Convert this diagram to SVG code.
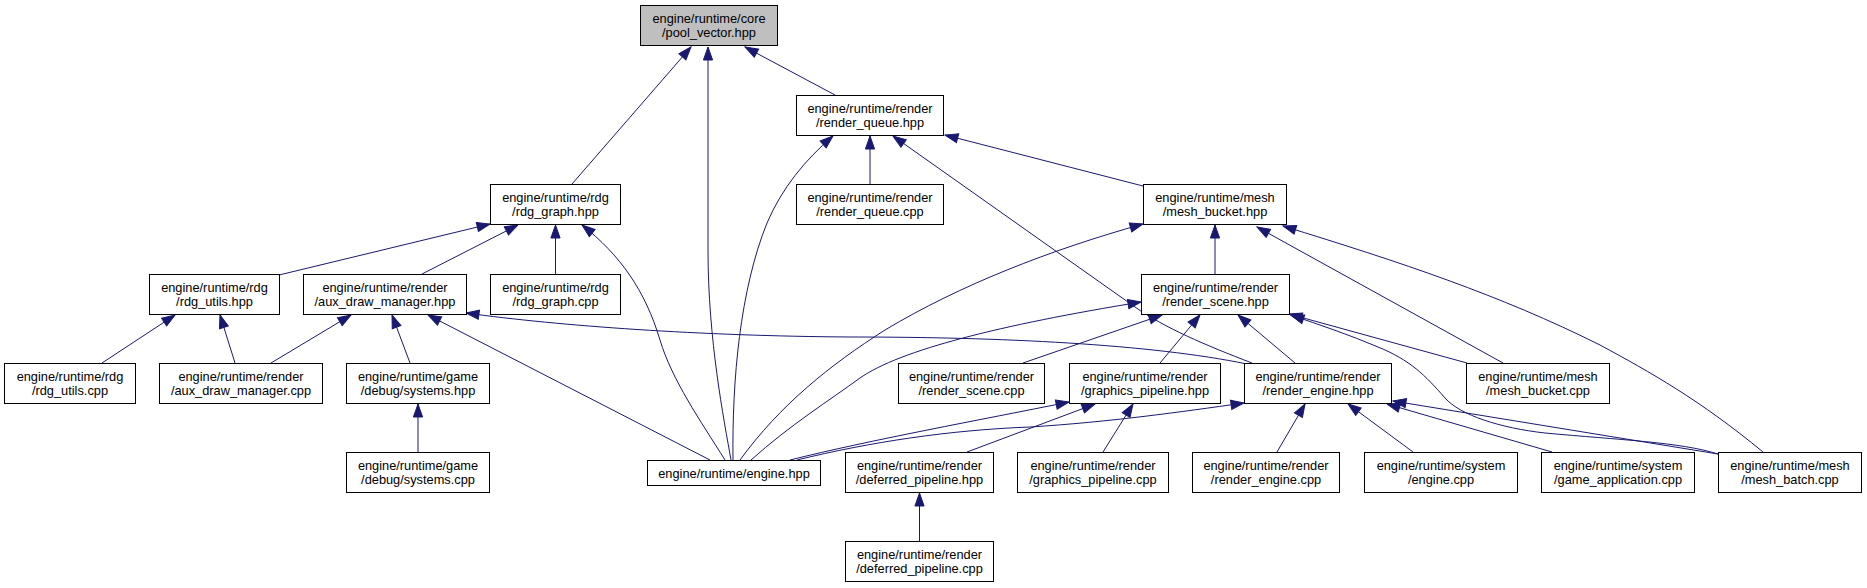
<svg xmlns="http://www.w3.org/2000/svg" width="1867" height="588" viewBox="0 0 1867 588">
<style>
.n rect{fill:#ffffff;stroke:#000000;stroke-width:1}
.n.cur rect{fill:#bfbfbf}
.n text{font-family:"Liberation Sans",Helvetica,Arial,sans-serif;font-size:12.8px;fill:#000000;text-anchor:middle}
#edges path{fill:none;stroke:#191970;stroke-width:1;marker-end:url(#ah)}
</style>
<defs>
<marker id="ah" viewBox="0 0 14 10" markerWidth="14" markerHeight="10" refX="13" refY="5" orient="auto" markerUnits="userSpaceOnUse" overflow="visible">
<polygon points="0,0.4 13,5 0,9.6" fill="#191970" stroke="#191970" stroke-width="1"/>
</marker>
</defs>
<rect width="1867" height="588" fill="#ffffff"/>
<g id="edges">
<path d="M572,184 L691,47"/>
<path d="M731,460 C724,420 708,340 708,250 L708,47"/>
<path d="M835,95 L745,47"/>
<path d="M279,275 L490,224"/>
<path d="M422,274 L518,225"/>
<path d="M555.5,274 L555.5,225"/>
<path d="M725,460 C700,420 672,380 660,340 C645,290 620,255 582,225"/>
<path d="M102,363 L175,315"/>
<path d="M235,363 L220,315"/>
<path d="M271,363 L351,315"/>
<path d="M410,363 L392,315"/>
<path d="M710,460 L428,315"/>
<path d="M1247,364 C1150,344 1000,337 850,337 C700,336 560,326 466,313"/>
<path d="M418,452 L418,404"/>
<path d="M870,184 L870,136"/>
<path d="M733,460 C732,380 740,290 767,223 C782,188 805,160 833,136"/>
<path d="M1252,363 C1205,345 1165,328 1135,307 L893,136"/>
<path d="M1143,186 L945,135"/>
<path d="M740,460 C780,405 830,365 885,330 C960,285 1050,250 1143,224"/>
<path d="M1215,274 L1215,225"/>
<path d="M1503,363 L1257,227"/>
<path d="M1763,452 C1700,400 1650,372 1600,345 C1500,295 1400,262 1283,226"/>
<path d="M751,460 C790,425 830,400 860,378 C900,350 1000,325 1141,302"/>
<path d="M1023,363 L1162,315"/>
<path d="M1160,363 L1200,315"/>
<path d="M1295,363 L1238,315"/>
<path d="M1467,363 L1289,314"/>
<path d="M1718,454 C1680,442 1620,440 1545,433 C1500,428 1460,415 1445,398 C1425,375 1410,360 1378,347 C1350,335 1320,325 1291,315"/>
<path d="M790,460 C870,440 980,420 1069,402"/>
<path d="M797,460 C870,442 950,430 1030,427 C1110,422 1180,412 1244,403"/>
<path d="M967,452 L1095,404"/>
<path d="M1103,452 L1133,404"/>
<path d="M1277,452 L1305,404"/>
<path d="M1413,452 L1348,404"/>
<path d="M1552,452 L1387,404"/>
<path d="M1718,454 L1393,401"/>
<path d="M919.5,541 L919.5,493"/>
</g>
<g id="node-pool_vector" class="n cur"><rect x="640.5" y="5.5" width="137" height="40"/><text x="709" y="22.5">engine/runtime/core</text><text x="709" y="36.5">/pool_vector.hpp</text></g>
<g id="node-render_queue_hpp" class="n"><rect x="796.5" y="95.5" width="147" height="40"/><text x="870" y="112.5">engine/runtime/render</text><text x="870" y="126.5">/render_queue.hpp</text></g>
<g id="node-rdg_graph_hpp" class="n"><rect x="490.5" y="184.5" width="130" height="40"/><text x="555.5" y="201.5">engine/runtime/rdg</text><text x="555.5" y="215.5">/rdg_graph.hpp</text></g>
<g id="node-render_queue_cpp" class="n"><rect x="796.5" y="184.5" width="147" height="40"/><text x="870" y="201.5">engine/runtime/render</text><text x="870" y="215.5">/render_queue.cpp</text></g>
<g id="node-mesh_bucket_hpp" class="n"><rect x="1143.5" y="184.5" width="143" height="40"/><text x="1215" y="201.5">engine/runtime/mesh</text><text x="1215" y="215.5">/mesh_bucket.hpp</text></g>
<g id="node-rdg_utils_hpp" class="n"><rect x="149.5" y="274.5" width="130" height="40"/><text x="214.5" y="291.5">engine/runtime/rdg</text><text x="214.5" y="305.5">/rdg_utils.hpp</text></g>
<g id="node-aux_draw_manager_hpp" class="n"><rect x="303.5" y="274.5" width="163" height="40"/><text x="385" y="291.5">engine/runtime/render</text><text x="385" y="305.5">/aux_draw_manager.hpp</text></g>
<g id="node-rdg_graph_cpp" class="n"><rect x="490.5" y="274.5" width="130" height="40"/><text x="555.5" y="291.5">engine/runtime/rdg</text><text x="555.5" y="305.5">/rdg_graph.cpp</text></g>
<g id="node-render_scene_hpp" class="n"><rect x="1141.5" y="274.5" width="148" height="40"/><text x="1215.5" y="291.5">engine/runtime/render</text><text x="1215.5" y="305.5">/render_scene.hpp</text></g>
<g id="node-rdg_utils_cpp" class="n"><rect x="4.5" y="363.5" width="131" height="40"/><text x="70" y="380.5">engine/runtime/rdg</text><text x="70" y="394.5">/rdg_utils.cpp</text></g>
<g id="node-aux_draw_manager_cpp" class="n"><rect x="159.5" y="363.5" width="163" height="40"/><text x="241" y="380.5">engine/runtime/render</text><text x="241" y="394.5">/aux_draw_manager.cpp</text></g>
<g id="node-debug_systems_hpp" class="n"><rect x="346.5" y="363.5" width="143" height="40"/><text x="418" y="380.5">engine/runtime/game</text><text x="418" y="394.5">/debug/systems.hpp</text></g>
<g id="node-render_scene_cpp" class="n"><rect x="898.5" y="363.5" width="146" height="40"/><text x="971.5" y="380.5">engine/runtime/render</text><text x="971.5" y="394.5">/render_scene.cpp</text></g>
<g id="node-graphics_pipeline_hpp" class="n"><rect x="1069.5" y="363.5" width="151" height="40"/><text x="1145" y="380.5">engine/runtime/render</text><text x="1145" y="394.5">/graphics_pipeline.hpp</text></g>
<g id="node-render_engine_hpp" class="n"><rect x="1244.5" y="363.5" width="147" height="40"/><text x="1318" y="380.5">engine/runtime/render</text><text x="1318" y="394.5">/render_engine.hpp</text></g>
<g id="node-mesh_bucket_cpp" class="n"><rect x="1466.5" y="363.5" width="143" height="40"/><text x="1538" y="380.5">engine/runtime/mesh</text><text x="1538" y="394.5">/mesh_bucket.cpp</text></g>
<g id="node-debug_systems_cpp" class="n"><rect x="346.5" y="452.5" width="143" height="40"/><text x="418" y="469.5">engine/runtime/game</text><text x="418" y="483.5">/debug/systems.cpp</text></g>
<g id="node-engine_hpp" class="n"><rect x="647.5" y="460.5" width="173" height="25"/><text x="734" y="477.5">engine/runtime/engine.hpp</text></g>
<g id="node-deferred_pipeline_hpp" class="n"><rect x="845.5" y="452.5" width="148" height="40"/><text x="919.5" y="469.5">engine/runtime/render</text><text x="919.5" y="483.5">/deferred_pipeline.hpp</text></g>
<g id="node-graphics_pipeline_cpp" class="n"><rect x="1017.5" y="452.5" width="151" height="40"/><text x="1093" y="469.5">engine/runtime/render</text><text x="1093" y="483.5">/graphics_pipeline.cpp</text></g>
<g id="node-render_engine_cpp" class="n"><rect x="1192.5" y="452.5" width="147" height="40"/><text x="1266" y="469.5">engine/runtime/render</text><text x="1266" y="483.5">/render_engine.cpp</text></g>
<g id="node-system_engine_cpp" class="n"><rect x="1364.5" y="452.5" width="153" height="40"/><text x="1441" y="469.5">engine/runtime/system</text><text x="1441" y="483.5">/engine.cpp</text></g>
<g id="node-game_application_cpp" class="n"><rect x="1541.5" y="452.5" width="153" height="40"/><text x="1618" y="469.5">engine/runtime/system</text><text x="1618" y="483.5">/game_application.cpp</text></g>
<g id="node-mesh_batch_cpp" class="n"><rect x="1718.5" y="452.5" width="143" height="40"/><text x="1790" y="469.5">engine/runtime/mesh</text><text x="1790" y="483.5">/mesh_batch.cpp</text></g>
<g id="node-deferred_pipeline_cpp" class="n"><rect x="845.5" y="541.5" width="148" height="40"/><text x="919.5" y="558.5">engine/runtime/render</text><text x="919.5" y="572.5">/deferred_pipeline.cpp</text></g>
</svg>
